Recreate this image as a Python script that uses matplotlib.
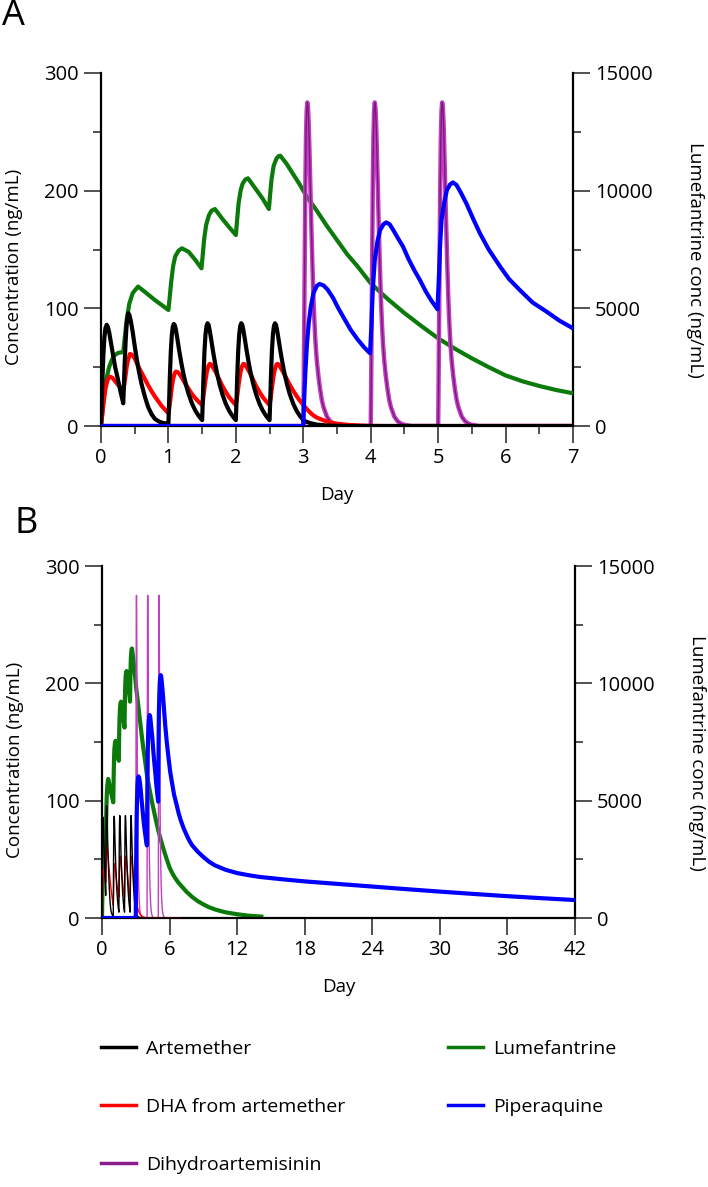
import matplotlib
matplotlib.use('Agg')
import matplotlib.pyplot as plt
from matplotlib.lines import Line2D
from matplotlib.ticker import MultipleLocator

plt.rcParams['font.family'] = ['Open Sans', 'DejaVu Sans']

# ---------------- data ----------------
# Artemether (ng/mL, left axis)
art_t = [0, 0.01, 0.02, 0.035, 0.05, 0.065, 0.084, 0.1, 0.12, 0.15, 0.18, 0.21, 0.25, 0.29, 0.33,
         0.34, 0.35, 0.365, 0.38, 0.395, 0.405, 0.42, 0.44, 0.47, 0.5, 0.53, 0.56, 0.6, 0.65,
         0.7, 0.75, 0.8, 0.87, 0.93, 0.99,
         1.0, 1.01, 1.02, 1.035, 1.05, 1.065, 1.08, 1.095, 1.11, 1.13, 1.16, 1.19, 1.22, 1.26,
         1.3, 1.35, 1.4, 1.45, 1.5,
         1.51, 1.52, 1.535, 1.55, 1.565, 1.58, 1.595, 1.61, 1.63, 1.66, 1.69, 1.72, 1.76,
         1.8, 1.85, 1.9, 1.95, 2.0,
         2.01, 2.02, 2.035, 2.05, 2.065, 2.08, 2.095, 2.11, 2.13, 2.16, 2.19, 2.22, 2.26,
         2.3, 2.35, 2.4, 2.45, 2.5,
         2.51, 2.52, 2.535, 2.55, 2.565, 2.58, 2.595, 2.61, 2.63, 2.66, 2.69, 2.72, 2.76,
         2.8, 2.85, 2.9, 2.95, 3.0, 3.05, 3.1, 3.2, 3.35, 3.6, 7.0]
art_c = [0, 18, 38, 60, 75, 83, 86, 84.5, 80, 70, 60, 50, 40, 29, 19.3,
         35, 52, 72, 86, 93.5, 95.8, 94.5, 90, 80, 68, 57, 47, 36, 25,
         16, 10, 6, 3.5, 2.5, 2,
         2, 20, 40, 63, 77, 84.5, 86.7, 85.5, 82, 75, 64, 54, 45, 35,
         27, 19, 13, 8.5, 5,
         22, 42, 64, 78, 85, 87.3, 86, 82, 75, 64, 54, 45, 35,
         27, 19, 13, 8.5, 5,
         22, 42, 64, 78, 85, 87.3, 86, 82, 75, 64, 54, 45, 35,
         27, 19, 13, 8.5, 5,
         22, 42, 64, 78, 85, 87.3, 86, 82, 75, 64, 54, 45, 35,
         27, 19, 13, 8.5, 5, 3.5, 2.5, 1.2, 0.4, 0, 0]

# DHA formed from artemether (ng/mL, left axis)
dha_t = [0, 0.02, 0.04, 0.07, 0.1, 0.134, 0.17, 0.21, 0.26, 0.33,
         0.345, 0.36, 0.38, 0.4, 0.43, 0.46, 0.5, 0.55, 0.6, 0.65, 0.7, 0.75, 0.8,
         0.85, 0.9, 0.98,
         1.0, 1.015, 1.03, 1.05, 1.07, 1.09, 1.11, 1.13, 1.16, 1.2, 1.25, 1.3, 1.35,
         1.4, 1.45, 1.5,
         1.515, 1.53, 1.55, 1.57, 1.59, 1.61, 1.63, 1.66, 1.7, 1.75, 1.8, 1.85,
         1.9, 1.95, 2.0,
         2.015, 2.03, 2.05, 2.07, 2.09, 2.11, 2.13, 2.16, 2.2, 2.25, 2.3, 2.35,
         2.4, 2.45, 2.5,
         2.515, 2.53, 2.55, 2.57, 2.59, 2.61, 2.63, 2.66, 2.7, 2.75, 2.8, 2.85,
         2.9, 2.95, 3.0, 3.05, 3.1, 3.15, 3.2, 3.3, 3.4, 3.5, 3.65, 3.9, 4.2, 7.0]
dha_c = [0, 10, 21, 33, 39.5, 41.9, 41, 38, 34.5, 30.6,
         35, 41, 50, 56, 61.2, 60.5, 57.5, 51, 45.5, 40, 34.5, 29.5, 25,
         21, 17, 12,
         11, 16, 23, 33, 40, 44.5, 46.2, 46, 44.5, 41, 36, 31.5, 27,
         23.5, 20.5, 17.8,
         23, 30, 39, 46, 50.5, 52.7, 52.5, 50, 46, 40, 34, 29,
         24.5, 21, 17.8,
         23, 30, 39, 46, 50.5, 52.7, 52.5, 50, 46, 40, 34, 29,
         24.5, 21, 17.8,
         23, 30, 39, 46, 50.5, 52.7, 52.5, 50, 46, 40.5, 35, 30,
         25.5, 21.5, 18, 14.5, 11.5, 9, 7.2, 4.8, 3, 2, 1, 0.2, 0, 0]

# Dihydroartemisinin (ng/mL, left axis)
dhap_t = [0, 3.0, 3.005, 3.01, 3.02, 3.03, 3.04, 3.05, 3.06, 3.07, 3.08, 3.09, 3.1,
          3.11, 3.12, 3.135, 3.15, 3.165, 3.18, 3.2, 3.225, 3.25, 3.275, 3.3, 3.35,
          3.4, 3.45, 3.5, 3.6,
          4.0, 4.005, 4.01, 4.02, 4.03, 4.04, 4.05, 4.06, 4.07, 4.08, 4.09, 4.1,
          4.11, 4.12, 4.135, 4.15, 4.165, 4.18, 4.2, 4.225, 4.25, 4.275, 4.3, 4.35,
          4.4, 4.45, 4.5, 4.6,
          5.0, 5.005, 5.01, 5.02, 5.03, 5.04, 5.05, 5.06, 5.07, 5.08, 5.09, 5.1,
          5.11, 5.12, 5.135, 5.15, 5.165, 5.18, 5.2, 5.225, 5.25, 5.275, 5.3, 5.35,
          5.4, 5.45, 5.5, 5.6, 7.0]
dhap_c = [0, 0, 25, 60, 130, 200, 245, 268, 275, 271, 258, 238, 215,
          192, 169, 138, 110, 89, 72, 56, 42, 31, 22, 16, 8,
          4, 2, 1, 0,
          0, 25, 60, 130, 200, 245, 268, 275, 271, 258, 238, 215,
          192, 169, 138, 110, 89, 72, 56, 42, 31, 22, 16, 8,
          4, 2, 1, 0,
          0, 25, 60, 130, 200, 245, 268, 275, 271, 258, 238, 215,
          192, 169, 138, 110, 89, 72, 56, 42, 31, 22, 16, 8,
          4, 2, 1, 0, 0]

# Lumefantrine (ng/mL, right axis)
lum_t = [0, 0.02, 0.05, 0.08, 0.12, 0.16, 0.2, 0.25, 0.33,
         0.35, 0.38, 0.42, 0.47, 0.55, 0.65, 0.8, 1.0,
         1.02, 1.04, 1.07, 1.1, 1.15, 1.2, 1.3, 1.4, 1.49,
         1.51, 1.53, 1.56, 1.6, 1.64, 1.69, 1.8, 1.9, 2.0,
         2.02, 2.04, 2.07, 2.1, 2.14, 2.18, 2.3, 2.4, 2.49,
         2.51, 2.53, 2.56, 2.6, 2.63, 2.66, 2.75, 2.85, 2.95,
         3.05, 3.2, 3.35, 3.5, 3.65, 3.8, 4.0, 4.25, 4.5, 4.75, 5.0, 5.25, 5.5,
         5.75, 6.0, 6.25, 6.5, 6.75, 7.0, 7.5, 8.0, 8.5, 9.0, 9.5, 10.0, 10.5,
         11.0, 12.0, 13.0, 14.15]
lum_c = [0, 600, 1400, 2000, 2500, 2800, 3000, 3100, 3150,
         3700, 4500, 5200, 5650, 5925, 5700, 5350, 4930,
         5500, 6100, 6800, 7200, 7450, 7550, 7400, 7050, 6700,
         7300, 7950, 8550, 8950, 9150, 9220, 8800, 8450, 8115,
         8800, 9450, 10000, 10300, 10470, 10525, 10050, 9650, 9220,
         9900, 10500, 11050, 11350, 11460, 11485, 11150, 10700, 10250,
         9750, 9150, 8500, 7900, 7300, 6800, 6065, 5400, 4800, 4250, 3725, 3280, 2875,
         2500, 2150, 1900, 1700, 1530, 1390, 1120, 900, 720, 580, 460, 370, 300,
         240, 160, 100, 60]

# Piperaquine (ng/mL, left axis)
pip_t = [0, 3.0, 3.01, 3.03, 3.055, 3.08, 3.11, 3.15, 3.2, 3.24,
         3.3, 3.36, 3.44, 3.52, 3.6, 3.7, 3.8, 3.9, 3.99,
         4.01, 4.03, 4.06, 4.1, 4.14, 4.19, 4.23, 4.28, 4.34, 4.41, 4.48,
         4.56, 4.65, 4.73, 4.82, 4.9, 4.99,
         5.01, 5.03, 5.05, 5.09, 5.13, 5.18, 5.22, 5.27, 5.33, 5.42, 5.52,
         5.62, 5.75, 5.92, 6.05, 6.21, 6.4, 6.61, 6.8, 7.0,
         7.25, 7.5, 7.75, 8.0, 8.5, 9.0, 9.5, 10.0, 11.0, 12.0, 13.0, 14.0,
         16.0, 18.0, 21.0, 24.0, 27.0, 30.0, 33.0, 36.0, 39.0, 42.0]
pip_c = [0, 0, 18, 45, 70, 87, 101, 112.8, 119, 120.7,
         119.5, 116, 109, 100, 92, 82, 74, 67, 61.8,
         85, 115, 141, 157, 166.6, 171.5, 173, 171.5, 166, 159, 152.4,
         142, 132, 124, 114, 106.5, 99.2,
         125, 155, 175, 190, 200.6, 205.5, 207, 205, 199, 189, 176,
         163.7, 150, 135.4, 125, 115.6, 105, 97.1, 89.5, 83,
         76.5, 71, 66, 62, 56.5, 52, 48, 45, 41, 38.3, 36.5, 35,
         33, 31.2, 29, 26.8, 24.6, 22.5, 20.5, 18.6, 16.9, 15.3]

legend_left = ['Artemether', 'DHA from artemether', 'Dihydroartemisinin']
legend_right = ['Lumefantrine', 'Piperaquine']

C_ART = '#000000'
C_DHA = '#ff0000'
C_DHAP = '#c23ec2'
C_DHAP_CORE = '#7a1a7a'
C_LUM = '#0b7a0b'
C_PIP = '#0000ff'

W, H = 708, 1187
fig = plt.figure(figsize=(W / 100, H / 100), dpi=100)


def make_panel(rect, xmax, xmajor, xminor, thin):
    ax = fig.add_axes(rect)
    ax2 = ax.twinx()
    lw_big = 3.0
    lw_small = 1.0 if thin else 3.0
    if thin:
        ax.plot(dhap_t, dhap_c, color=C_DHAP, lw=1.0, zorder=2)
    else:
        ax.plot(dhap_t, dhap_c, color=C_DHAP, lw=3.2, zorder=2)
        ax.plot(dhap_t, dhap_c, color=C_DHAP_CORE, lw=1.0, zorder=2.1)
    ax.plot(dha_t, dha_c, color=C_DHA, lw=lw_small, zorder=3)
    ax.plot(art_t, art_c, color=C_ART, lw=lw_small, zorder=4)
    ax.plot(pip_t, pip_c, color=C_PIP, lw=lw_big, zorder=5)
    ax2.plot(lum_t, lum_c, color=C_LUM, lw=lw_big, zorder=3)

    ax.set_xlim(0, xmax)
    ax.set_ylim(0, 300)
    ax2.set_ylim(0, 15000)
    for a in (ax, ax2):
        a.spines['top'].set_visible(False)
        for s in a.spines.values():
            s.set_linewidth(1.6)
    ax.spines['right'].set_visible(False)
    ax2.spines['left'].set_visible(False)
    ax2.spines['bottom'].set_visible(False)

    ax.xaxis.set_major_locator(MultipleLocator(xmajor))
    if xminor:
        ax.xaxis.set_minor_locator(MultipleLocator(xminor))
    ax.yaxis.set_major_locator(MultipleLocator(100))
    ax.yaxis.set_minor_locator(MultipleLocator(50))
    ax2.yaxis.set_major_locator(MultipleLocator(5000))
    ax2.yaxis.set_minor_locator(MultipleLocator(2500))

    ax.tick_params(axis='both', which='major', direction='out', length=12,
                   width=1.2, labelsize=14.5, pad=4, color='#333333')
    ax.tick_params(axis='both', which='minor', direction='out', length=6,
                   width=1.2, color='#333333')
    ax2.tick_params(axis='y', which='major', direction='out', length=12,
                    width=1.2, labelsize=14.5, pad=4, color='#333333')
    ax2.tick_params(axis='y', which='minor', direction='out', length=6,
                    width=1.2, color='#333333')

    ax.set_ylabel('Concentration (ng/mL)', fontsize=13.5)
    ax.yaxis.set_label_coords(-0.165, 0.45)
    ax2.set_ylabel('Lumefantrine conc (ng/mL)', fontsize=13.5, rotation=270,
                   va='center')
    ax2.yaxis.set_label_coords(1.258, 0.47)
    ax.set_xlabel('Day', fontsize=13.5)
    ax.xaxis.set_label_coords(0.5, -0.17)
    ax.set_zorder(ax2.get_zorder() + 1)
    ax.patch.set_visible(False)
    return ax, ax2


make_panel([101 / W, 1 - 426 / H, 472 / W, 353 / H], 7, 1, 0.5, False)
make_panel([102 / W, 1 - 918 / H, 473 / W, 352 / H], 42, 6, None, True)

fig.text(2 / W, 1 - 16 / H, 'A', fontsize=26, va='center', ha='left')
fig.text(15 / W, 1 - 524 / H, 'B', fontsize=26, va='center', ha='left')

h_left = [Line2D([], [], color=c, lw=2.5) for c in (C_ART, C_DHA, '#8b1a8b')]
h_right = [Line2D([], [], color=c, lw=2.5) for c in (C_LUM, C_PIP)]
kw = dict(loc='upper left', frameon=False, fontsize=14, handlelength=1.8,
          handletextpad=0.5, labelspacing=2.05, borderpad=0, borderaxespad=0)
fig.legend(h_left, legend_left, bbox_to_anchor=(101 / W, 1 - 1040 / H), **kw)
fig.legend(h_right, legend_right, bbox_to_anchor=(448 / W, 1 - 1040 / H), **kw)

fig.savefig('out.png', dpi=100)
